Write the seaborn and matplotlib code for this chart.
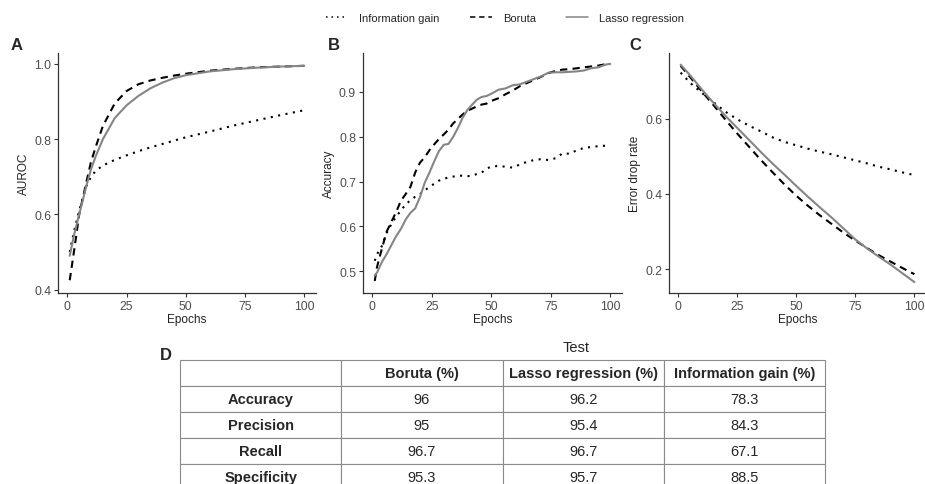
import pandas as pd
import seaborn as sns
import matplotlib.pyplot as plt
from matplotlib.lines import Line2D

# panel A: AUROC
epochs_a = [1, 3, 5, 8, 10, 12, 15, 20, 25, 30, 35, 40, 45, 50, 60, 70, 80, 90, 100]
auroc_info = [0.50, 0.56, 0.61, 0.675, 0.70, 0.716, 0.73, 0.745, 0.757, 0.768, 0.778,
              0.787, 0.796, 0.805, 0.82, 0.836, 0.85, 0.864, 0.877]
auroc_boruta = [0.425, 0.51, 0.60, 0.685, 0.74, 0.78, 0.835, 0.895, 0.928, 0.946, 0.956,
                0.963, 0.969, 0.974, 0.982, 0.987, 0.991, 0.993, 0.995]
auroc_lasso = [0.49, 0.55, 0.60, 0.675, 0.72, 0.755, 0.80, 0.856, 0.89, 0.915, 0.935,
               0.95, 0.962, 0.97, 0.98, 0.986, 0.99, 0.993, 0.995]

# panel B: accuracy
epochs_b = [1, 2, 4, 6, 8, 10, 12, 14, 16, 18, 20, 22, 24, 26, 28, 30, 32, 34, 36, 38, 40,
            42, 44, 46, 48, 50, 53, 56, 59, 62, 65, 68, 71, 74, 77, 80, 83, 86, 89, 92, 95, 98, 100]
acc_info = [0.523, 0.538, 0.556, 0.585, 0.605, 0.622, 0.635, 0.649, 0.658, 0.666, 0.672,
            0.68, 0.688, 0.695, 0.702, 0.706, 0.709, 0.711, 0.713, 0.713, 0.712, 0.713,
            0.717, 0.72, 0.729, 0.733, 0.735, 0.733, 0.731, 0.738, 0.744, 0.748, 0.75,
            0.748, 0.752, 0.763, 0.762, 0.77, 0.775, 0.777, 0.779, 0.78, 0.781]
acc_boruta = [0.478, 0.51, 0.55, 0.588, 0.61, 0.632, 0.657, 0.672, 0.688, 0.72, 0.742,
              0.754, 0.77, 0.783, 0.795, 0.805, 0.816, 0.83, 0.84, 0.85, 0.858, 0.863,
              0.868, 0.872, 0.874, 0.88, 0.886, 0.895, 0.903, 0.913, 0.92, 0.927, 0.934,
              0.942, 0.947, 0.95, 0.951, 0.953, 0.955, 0.957, 0.959, 0.962, 0.962]
acc_lasso = [0.49, 0.497, 0.52, 0.538, 0.558, 0.578, 0.594, 0.615, 0.63, 0.64, 0.665,
             0.697, 0.72, 0.745, 0.768, 0.782, 0.784, 0.80, 0.82, 0.843, 0.86, 0.872,
             0.883, 0.889, 0.891, 0.896, 0.905, 0.908, 0.915, 0.917, 0.923, 0.929, 0.935,
             0.943, 0.944, 0.944, 0.945, 0.946, 0.948, 0.953, 0.955, 0.961, 0.963]

# panel C: error drop rate
epochs_c = [1, 5, 10, 15, 20, 25, 30, 35, 40, 45, 50, 55, 60, 65, 70, 75, 80, 85, 90, 95, 100]
err_info = [0.722, 0.695, 0.668, 0.643, 0.618, 0.598, 0.581, 0.566, 0.55, 0.538, 0.529,
            0.52, 0.512, 0.505, 0.497, 0.489, 0.481, 0.472, 0.465, 0.457, 0.45]
err_boruta = [0.74, 0.71, 0.672, 0.635, 0.597, 0.56, 0.525, 0.49, 0.457, 0.425, 0.395,
              0.368, 0.343, 0.32, 0.297, 0.276, 0.256, 0.237, 0.22, 0.203, 0.187]
err_lasso = [0.743, 0.715, 0.677, 0.641, 0.607, 0.575, 0.543, 0.511, 0.48, 0.451, 0.421,
             0.392, 0.364, 0.337, 0.308, 0.279, 0.255, 0.233, 0.212, 0.189, 0.166]

# panel D: test table
table_cols = ["", "Boruta (%)", "Lasso regression (%)", "Information gain (%)"]
metrics = ["Accuracy", "Precision", "Recall", "Specificity"]
test_boruta = ["96", "95", "96.7", "95.3"]
test_lasso = ["96.2", "95.4", "96.7", "95.7"]
test_info = ["78.3", "84.3", "67.1", "88.5"]

methods = ["Information gain", "Boruta", "Lasso regression"]
styles = {
    "Information gain": dict(color="black", linestyle=(0, (1, 2.6)), lw=1.5),
    "Boruta": dict(color="black", linestyle=(0, (3.5, 2.5)), lw=1.5),
    "Lasso regression": dict(color="#858585", linestyle="-", lw=1.5),
}

sns.set_theme(style="ticks")
plt.rcParams["font.family"] = ["Liberation Sans", "DejaVu Sans"]
plt.rcParams["axes.edgecolor"] = "#333333"
plt.rcParams["xtick.color"] = "#333333"
plt.rcParams["ytick.color"] = "#333333"

fig = plt.figure(figsize=(9.25, 4.85), dpi=100)

panels = [
    ("A", [0.0627, 0.3938, 0.2789, 0.4948], epochs_a, [auroc_info, auroc_boruta, auroc_lasso],
     "AUROC", (0.391, 1.029), [0.4, 0.6, 0.8, 1.0], 0.011),
    ("B", [0.3924, 0.3938, 0.2800, 0.4948], epochs_b, [acc_info, acc_boruta, acc_lasso],
     "Accuracy", (0.451, 0.987), [0.5, 0.6, 0.7, 0.8, 0.9], 0.3546),
    ("C", [0.7232, 0.3938, 0.2780, 0.4948], epochs_c, [err_info, err_boruta, err_lasso],
     "Error drop rate", (0.137, 0.774), [0.2, 0.4, 0.6], 0.680),
]

for letter, pos, ep, series, ylab, ylim, yticks, lx in panels:
    ax = fig.add_axes(pos)
    for name, vals in zip(methods, series):
        df = pd.DataFrame({"Epochs": ep, ylab: vals})
        sns.lineplot(data=df, x="Epochs", y=ylab, ax=ax, **styles[name])
    ax.set_xlim(-3.95, 104.95)
    ax.set_ylim(*ylim)
    ax.set_xticks([0, 25, 50, 75, 100])
    ax.set_yticks(yticks)
    ax.set_yticklabels([f"{t:.1f}" for t in yticks])
    ax.tick_params(labelsize=8.8, labelcolor="#4d4d4d", length=3, width=0.8, pad=2)
    ax.set_xlabel("Epochs", fontsize=8.5, color="#222222", labelpad=1)
    ax.set_ylabel(ylab, fontsize=8.5, color="#222222", labelpad=3)
    for s in ["left", "bottom"]:
        ax.spines[s].set_linewidth(0.9)
    sns.despine(ax=ax)
    fig.text(lx, 1 - 50 / 485, letter, fontsize=12, fontweight="bold", va="baseline")

# shared legend on top
handles = [Line2D([], [], color=styles[m]["color"], linestyle=styles[m]["linestyle"], lw=1.1)
           for m in methods]
fig.legend(handles, methods, loc="center", bbox_to_anchor=(505 / 925, 1 - 19 / 485),
           ncol=3, frameon=False, fontsize=8, handlelength=2.0, handletextpad=1.0,
           columnspacing=2.7)

# table D
ax_t = fig.add_axes([180 / 925, 1 - 491 / 485, 645 / 925, 130 / 485])
ax_t.axis("off")
cells = [[m, b, l, i] for m, b, l, i in zip(metrics, test_boruta, test_lasso, test_info)]
tbl = ax_t.table(cellText=cells, colLabels=table_cols, cellLoc="center",
                 bbox=[0, 0, 1, 1], colWidths=[0.25, 0.25, 0.25, 0.25])
tbl.auto_set_font_size(False)
tbl.set_fontsize(10.5)
for (r, c), cell in tbl.get_celld().items():
    cell.set_edgecolor("#8a8a8a")
    cell.set_linewidth(0.8)
    if r == 0 or c == 0:
        cell.get_text().set_fontweight("bold")
fig.text(576 / 925, 1 - 348 / 485, "Test", fontsize=10.5, ha="center", va="center")
fig.text(0.173, 1 - 360 / 485, "D", fontsize=12, fontweight="bold", va="baseline")

fig.savefig("out.png", dpi=100)
